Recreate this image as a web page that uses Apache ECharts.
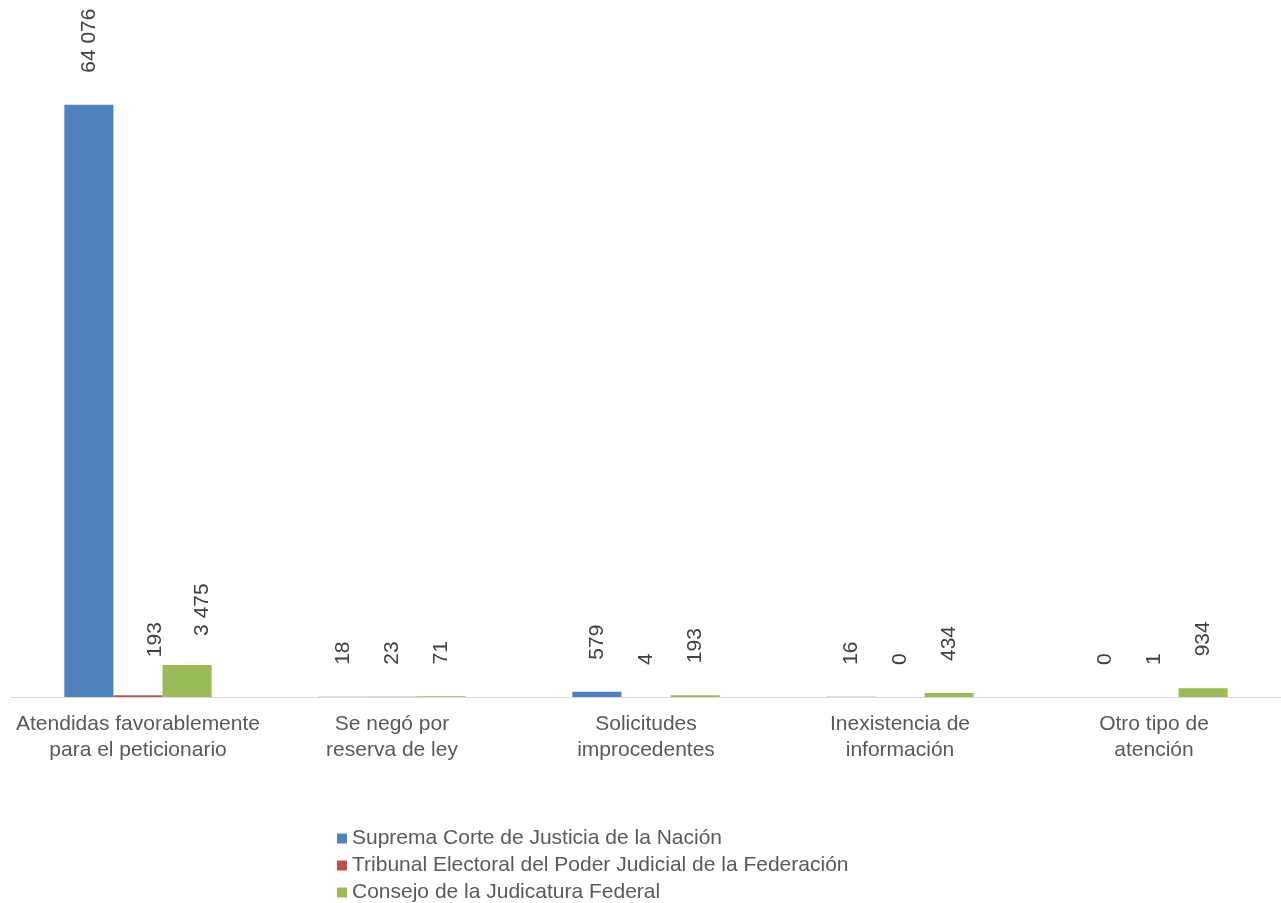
<!DOCTYPE html>
<html>
<head>
<meta charset="utf-8">
<script src="https://cdn.jsdelivr.net/npm/echarts@6/dist/echarts.min.js"></script>
<style>
html,body{margin:0;padding:0;background:#fff;}
#c{width:1281px;height:903px;}
</style>
</head>
<body>
<div id="c"></div>
<script>
const categories = ["Atendidas favorablemente\npara el peticionario", "Se negó por\nreserva de ley", "Solicitudes\nimprocedentes", "Inexistencia de\ninformación", "Otro tipo de\natención"];
const seriesNames = ["Suprema Corte de Justicia de la Nación", "Tribunal Electoral del Poder Judicial de la Federación", "Consejo de la Judicatura Federal"];
const scjn = [64076, 18, 579, 16, 0];
const tepjf = [193, 23, 4, 0, 1];
const cjf = [3475, 71, 193, 434, 934];
const colors = ["#4F81BD", "#C0504D", "#9BBB59"];

const font = "'Liberation Sans', Arial, sans-serif";
function fmt(v){ return String(v).replace(/\B(?=(\d{3})+(?!\d))/g, ' '); }

const chart = echarts.init(document.getElementById('c'));
const data = [scjn, tepjf, cjf];
// in the reference, the first group's red and green labels sit slightly right of their bars
// (offset is in the label's rotated frame: [along text, across text])
const firstGroupLabelOffset = [null, [6, 17], [-3, 15]];
chart.setOption({
  animation: false,
  textStyle: {fontFamily: font},
  grid: {left: 11, right: 0, top: 50, bottom: 206, containLabel: false},
  legend: {
    orient: 'vertical', left: 337, top: 828, padding: 0,
    itemWidth: 10, itemHeight: 10, itemGap: 6,
    icon: 'rect', height: 80,
    textStyle: {fontFamily: font, fontSize: 21, lineHeight: 20, color: '#595959'},
    data: seriesNames
  },
  xAxis: {
    type: 'category', data: categories,
    axisLine: {lineStyle: {color: '#D9D9D9', width: 1}},
    axisTick: {show: false},
    axisLabel: {fontFamily: font, fontSize: 21, color: '#595959', lineHeight: 26, margin: 14, interval: 0}
  },
  yAxis: {type: 'value', min: 0, max: 70000, show: false, splitLine: {show: false}},
  series: seriesNames.map((n, i) => ({
    name: n, type: 'bar',
    data: data[i].map((v, j) => (j === 0 && firstGroupLabelOffset[i]) ? {value: v, label: {offset: firstGroupLabelOffset[i]}} : v),
    barGap: '0%', barCategoryGap: '42%',
    itemStyle: {color: colors[i]},
    label: {
      show: true, position: 'top', rotate: 90, align: 'left', verticalAlign: 'middle',
      distance: 32, fontFamily: font, fontSize: 21, color: '#404040',
      formatter: p => fmt(p.value)
    }
  }))
});
</script>
</body>
</html>
